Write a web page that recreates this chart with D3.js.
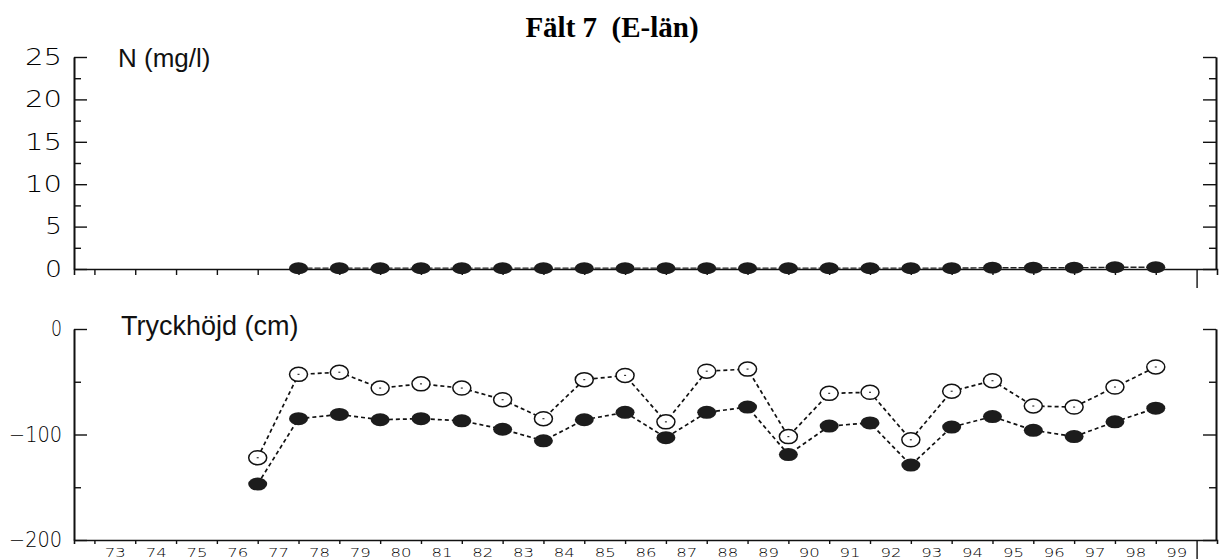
<!DOCTYPE html>
<html>
<head>
<meta charset="utf-8">
<script src="https://cdn.jsdelivr.net/npm/d3@7"></script>
<style>
  body { margin: 0; background: #fff; }
  svg { display: block; }
  .tick-lbl { font-family: "DejaVu Sans", sans-serif; font-weight: 200; fill: #000; }
  .panel-lbl { font-family: "Liberation Sans", Arial, sans-serif; fill: #111; }
</style>
</head>
<body>
<svg id="chart"></svg>
<script>
// years along the x axis (labels sit between the ticks)
const yearLabels = d3.range(73, 100);

// N (mg/l), 1978-1999
const nYears = d3.range(78, 100);
const nValues = [0.1, 0.1, 0.1, 0.1, 0.1, 0.1, 0.1, 0.1, 0.1, 0.1, 0.1,
                 0.1, 0.1, 0.1, 0.1, 0.1, 0.1, 0.15, 0.15, 0.15, 0.2, 0.2];

// Tryckhöjd (cm), 1977-1999
const pYears = d3.range(77, 100);
const pOpen = [-122, -43, -41, -56, -52, -56, -67, -85, -48, -44, -88, -40,
               -38, -102, -61, -60, -105, -59, -49, -73, -74, -55, -36];
const pFilled = [-147, -85, -81, -86, -85, -87, -95, -106, -86, -79, -103, -79,
                 -74, -119, -92, -89, -129, -93, -83, -96, -102, -88, -75];

const nTicks = [0, 5, 10, 15, 20, 25];
const nMinor = [2.5, 7.5, 12.5, 17.5, 22.5];
const pTicks = [-200, -100, 0];
const pMinor = [-150, -50];

const width = 1220, height = 559;
const svg = d3.select('#chart').attr('width', width).attr('height', height);

const left = 74, right = 1216;
const x = d3.scaleLinear().domain([72.5, 100.5]).range([left, 1217]);
const yN = d3.scaleLinear().domain([0, 25]).range([269, 57]);
const yP = d3.scaleLinear().domain([-200, 0]).range([540, 329]);

// title
svg.append('text')
  .attr('x', 612).attr('y', 37)
  .attr('text-anchor', 'middle')
  .style('white-space', 'pre')
  .style('font-family', '"Liberation Serif", "Times New Roman", serif')
  .style('font-weight', 'bold')
  .style('font-size', '29px')
  .text('Fält 7  (E-län)');

function styleAxis(g) {
  g.select('.domain').attr('stroke', '#111').attr('stroke-width', 1.6);
  g.selectAll('.tick line').attr('stroke', '#111').attr('stroke-width', 1.4);
}

function yAxes(y, major, minor, fontSize, charW) {
  const g = svg.append('g');
  g.append('g')
    .attr('transform', `translate(${left},0)`)
    .call(d3.axisLeft(y).tickValues(major).tickSize(-13).tickSizeOuter(0).tickPadding(12))
    .call(styleAxis)
    .call(a => a.selectAll('text')
      .attr('class', 'tick-lbl')
      .style('font-size', fontSize + 'px')
      .attr('font-family', null)
      .attr('textLength', d => String(d).length * charW - 3)
      .attr('lengthAdjust', 'spacingAndGlyphs'));
  g.append('g')
    .attr('transform', `translate(${left},0)`)
    .call(d3.axisLeft(y).tickValues(minor).tickSize(-7).tickSizeOuter(0).tickFormat(''))
    .call(styleAxis);
  g.append('g')
    .attr('transform', `translate(${right},0)`)
    .call(d3.axisRight(y).tickValues(major).tickSize(-13).tickSizeOuter(0).tickFormat(''))
    .call(styleAxis);
  g.append('g')
    .attr('transform', `translate(${right},0)`)
    .call(d3.axisRight(y).tickValues(minor).tickSize(-7).tickSizeOuter(0).tickFormat(''))
    .call(styleAxis);
}

yAxes(yN, nTicks, nMinor, 23, 20);
yAxes(yP, pTicks, pMinor, 21, 14);

// x axes: ticks at year boundaries, year 100 tick longer
const boundaries = d3.range(73, 101);
function xAxis(yPos, short) {
  svg.append('g')
    .attr('transform', `translate(0,${yPos})`)
    .call(d3.axisBottom(x).tickValues(boundaries).tickSizeOuter(0).tickFormat('').tickSize(short))
    .call(styleAxis)
    .call(a => a.selectAll('.tick line').filter(d => d === 100).attr('y2', 19));
}
xAxis(yN(0), 6);
xAxis(yP(-200), 4);

svg.append('g')
  .attr('transform', `translate(0,${yP(-200)})`)
  .call(d3.axisBottom(x).tickValues(yearLabels.map(v => v + 0.5)).tickSize(0).tickPadding(8)
    .tickFormat(d => String(Math.floor(d))))
  .call(a => a.select('.domain').remove())
  .call(a => a.selectAll('text')
    .attr('class', 'tick-lbl')
    .attr('font-family', null)
    .style('font-size', '13px')
    .attr('textLength', 21)
    .attr('lengthAdjust', 'spacingAndGlyphs'));

// panel labels
svg.append('text').attr('class', 'panel-lbl')
  .attr('x', 118).attr('y', 67).style('font-size', '26px').text('N (mg/l)');
svg.append('text').attr('class', 'panel-lbl')
  .attr('x', 121).attr('y', 335).style('font-size', '27px').text('Tryckhöjd (cm)');

// N series
const nData = nYears.map((yr, i) => ({ yr, v: nValues[i] }));
svg.append('path')
  .datum(nData)
  .attr('fill', 'none').attr('stroke', '#222').attr('stroke-width', 1.4)
  .attr('stroke-dasharray', '6,2')
  .attr('d', d3.line().x(d => x(d.yr)).y(d => yN(d.v)));
svg.selectAll('.ndot')
  .data(nData).enter().append('ellipse')
  .attr('class', 'ndot')
  .attr('cx', d => x(d.yr)).attr('cy', d => yN(d.v))
  .attr('rx', 9.5).attr('ry', 6)
  .attr('fill', '#1c1c1c');

// Tryckhöjd series
const openData = pYears.map((yr, i) => ({ yr, v: pOpen[i] }));
const filledData = pYears.map((yr, i) => ({ yr, v: pFilled[i] }));
const pLine = d3.line().x(d => x(d.yr)).y(d => yP(d.v));

[openData, filledData].forEach(data => {
  svg.append('path')
    .datum(data)
    .attr('fill', 'none').attr('stroke', '#111').attr('stroke-width', 1.7)
    .attr('stroke-dasharray', '4,3')
    .attr('d', pLine);
});

svg.selectAll('.fdot')
  .data(filledData).enter().append('ellipse')
  .attr('class', 'fdot')
  .attr('cx', d => x(d.yr)).attr('cy', d => yP(d.v))
  .attr('rx', 9.5).attr('ry', 6.5)
  .attr('fill', '#1c1c1c');

svg.selectAll('.odot')
  .data(openData).enter().append('ellipse')
  .attr('class', 'odot')
  .attr('cx', d => x(d.yr)).attr('cy', d => yP(d.v))
  .attr('rx', 9).attr('ry', 7)
  .attr('fill', '#fff').attr('stroke', '#111').attr('stroke-width', 1.5);

svg.selectAll('.ocen')
  .data(openData).enter().append('line')
  .attr('class', 'ocen')
  .attr('x1', d => x(d.yr) - 1).attr('x2', d => x(d.yr) + 1)
  .attr('y1', d => yP(d.v)).attr('y2', d => yP(d.v))
  .attr('stroke', '#333').attr('stroke-width', 1.2);
</script>
</body>
</html>
